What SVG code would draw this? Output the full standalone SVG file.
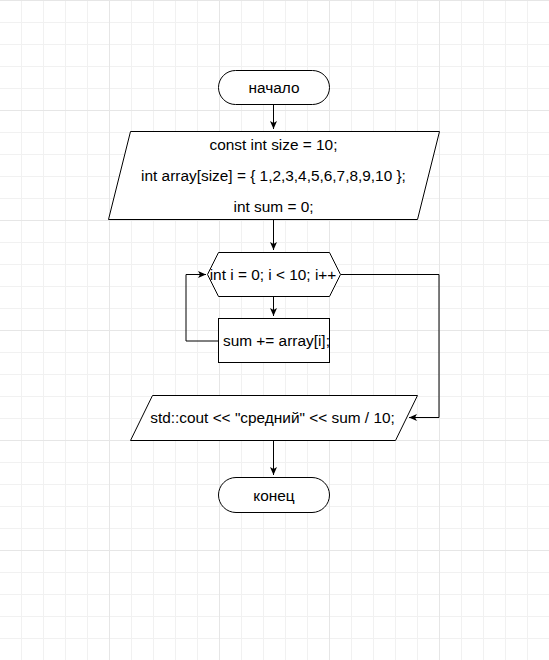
<svg xmlns="http://www.w3.org/2000/svg" width="549" height="660" viewBox="0 0 549 660">
<defs>
<pattern id="minor" patternUnits="userSpaceOnUse" x="0" y="0" width="22" height="22">
<path d="M21.5 0V22M0 0.5H22" stroke="#f1f1f1" stroke-width="1" fill="none"/>
</pattern>
<pattern id="major" patternUnits="userSpaceOnUse" x="0" y="0" width="110" height="110">
<path d="M109.5 0V110M0 0.5H110" stroke="#e6e6e6" stroke-width="1" fill="none"/>
</pattern>
<marker id="arr" markerWidth="10" markerHeight="8" refX="8" refY="4" orient="auto" markerUnits="userSpaceOnUse">
<path d="M0,0.5 L8,4 L0,7.5 L2,4 z" fill="#000"/>
</marker>
<style>
.shape{fill:#fff;stroke:#000;stroke-width:1}
.t{font-family:"Liberation Sans",Arial,sans-serif;font-size:15.4px;fill:#000;text-anchor:middle}
.c{fill:none;stroke:#000;stroke-width:1}
</style>
</defs>
<rect width="549" height="660" fill="#fff"/>
<rect width="549" height="660" fill="url(#minor)"/>
<rect width="549" height="660" fill="url(#major)"/>
<g id="connectors">
<path class="c" d="M273.5 105V129" marker-end="url(#arr)"/>
<path class="c" d="M273.5 220V250" marker-end="url(#arr)"/>
<path class="c" d="M273.5 297V316" marker-end="url(#arr)"/>
<path class="c" d="M218 341H186V274.5H206" marker-end="url(#arr)"/>
<path class="c" d="M341 274.5H439V417.5H409" marker-end="url(#arr)"/>
<path class="c" d="M273.5 440V475" marker-end="url(#arr)"/>
</g>
<g id="start">
<rect class="shape" x="218.5" y="70.5" width="111" height="34" rx="17" ry="17"/>
<text class="t" x="274" y="92.5">начало</text>
</g>
<g id="init">
<polygon class="shape" points="130.5,131.5 439.5,131.5 417.5,219.5 108.5,219.5"/>
<text class="t" x="273.5" y="149.5">const int size = 10;</text>
<text class="t" x="273.5" y="180.5">int array[size] = { 1,2,3,4,5,6,7,8,9,10 };</text>
<text class="t" x="273.5" y="211.5">int sum = 0;</text>
</g>
<g id="loop">
<polygon class="shape" points="218.5,252.5 329.5,252.5 340.5,274.5 329.5,296.5 218.5,296.5 207.5,274.5"/>
<text class="t" x="273" y="280">int i = 0; i &lt; 10; i++</text>
</g>
<g id="body">
<rect class="shape" x="218.5" y="318.5" width="111" height="44"/>
<text class="t" x="223" y="346" style="text-anchor:start">sum += array[i];</text>
</g>
<g id="output">
<polygon class="shape" points="152.5,395.5 417.5,395.5 395.5,440.5 130.5,440.5"/>
<text class="t" x="272.5" y="423">std::cout &lt;&lt; "средний" &lt;&lt; sum / 10;</text>
</g>
<g id="end">
<rect class="shape" x="218.5" y="477.5" width="111" height="35" rx="17.5" ry="17.5"/>
<text class="t" x="274" y="500.5">конец</text>
</g>
</svg>
